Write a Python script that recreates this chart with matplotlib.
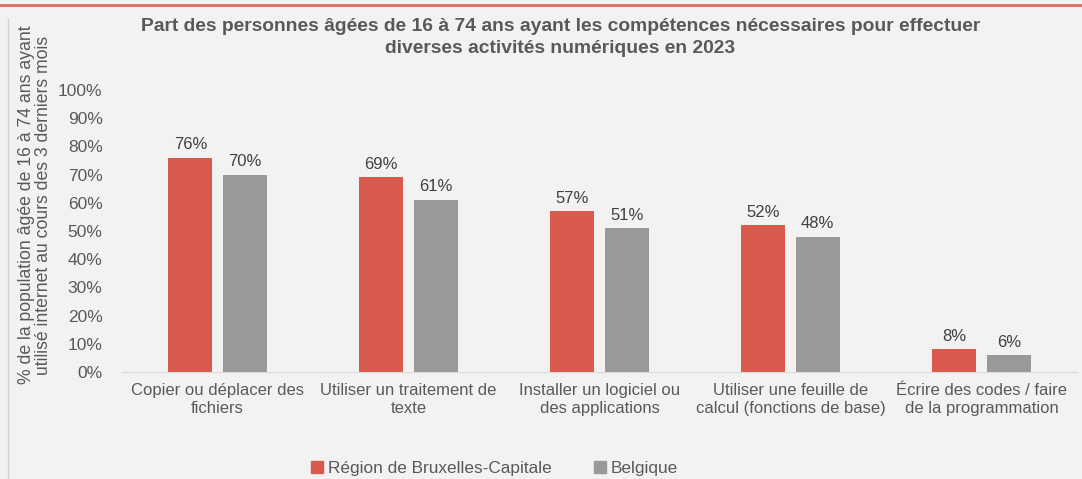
import matplotlib.pyplot as plt
import numpy as np
from matplotlib.lines import Line2D
from matplotlib.patches import Patch

plt.rcParams["font.family"] = ["Liberation Sans", "DejaVu Sans"]

categories = [
    "Copier ou déplacer des\nfichiers",
    "Utiliser un traitement de\ntexte",
    "Installer un logiciel ou\ndes applications",
    "Utiliser une feuille de\ncalcul (fonctions de base)",
    "Écrire des codes / faire\nde la programmation",
]
bruxelles = [76, 69, 57, 52, 8]
belgique = [70, 61, 51, 48, 6]
series_names = ["Région de Bruxelles-Capitale", "Belgique"]

RED = "#d9594c"
GREY = "#999999"
TXT = "#595959"
BG = "#f2f2f2"

fig = plt.figure(figsize=(10.82, 4.79), dpi=100, facecolor=BG)
ax = fig.add_axes([0.1128, 0.2234, 0.8826, 0.5887], facecolor=BG)

x = np.arange(len(categories))
w = 0.23
gap = 0.055
b1 = ax.bar(x - (w + gap) / 2, np.array(bruxelles) / 100, w, color=RED)
b2 = ax.bar(x + (w + gap) / 2, np.array(belgique) / 100, w, color=GREY)
for bars, vals in ((b1, bruxelles), (b2, belgique)):
    for rect, v in zip(bars, vals):
        ax.annotate(f"{v}%", (rect.get_x() + rect.get_width() / 2, rect.get_height()),
                    xytext=(0, 4), textcoords="offset points", ha="center", va="bottom",
                    fontsize=12, color="#404040")

ax.set_xlim(-0.5, len(categories) - 0.5)
ax.set_ylim(0, 1)
ax.set_yticks(np.arange(0, 1.01, 0.1))
ax.set_yticklabels([f"{int(round(t * 100))}%" for t in np.arange(0, 1.01, 0.1)])
ax.set_xticks(x)
ax.set_xticklabels(categories)
ax.tick_params(axis="both", length=0, labelsize=12, labelcolor=TXT)
ax.tick_params(axis="y", labelsize=12.5, pad=14)
ax.tick_params(axis="x", pad=8)
for s in ("top", "right", "left"):
    ax.spines[s].set_visible(False)
ax.spines["bottom"].set_color("#d9d9d9")

fig.text(0.518, 0.962, "Part des personnes âgées de 16 à 74 ans ayant les compétences nécessaires pour effectuer\n"
         "diverses activités numériques en 2023", ha="center", va="top", fontsize=13.9,
         fontweight="bold", color=TXT, linespacing=1.35)
fig.text(0.032, 0.572, "% de la population âgée de 16 à 74 ans ayant\nutilisé internet au cours des 3 derniers mois",
         rotation=90, ha="center", va="center", fontsize=12.7, color=TXT, linespacing=1.0)

handles = [Patch(color=RED), Patch(color=GREY)]
fig.legend(handles, series_names, loc="center", bbox_to_anchor=(0.457, 0.022), ncol=2,
           frameon=False, fontsize=12.4, labelcolor=TXT, handlelength=0.7, handleheight=0.7,
           handletextpad=0.3, columnspacing=2.45)

fig.add_artist(Line2D([0, 1], [0.99, 0.99], transform=fig.transFigure, color="#e06a5c", lw=2))
fig.add_artist(Line2D([0.0075, 0.0075], [0, 0.96], transform=fig.transFigure, color="#d0d0d0", lw=1))

fig.savefig("out.png", dpi=100, facecolor=BG)
